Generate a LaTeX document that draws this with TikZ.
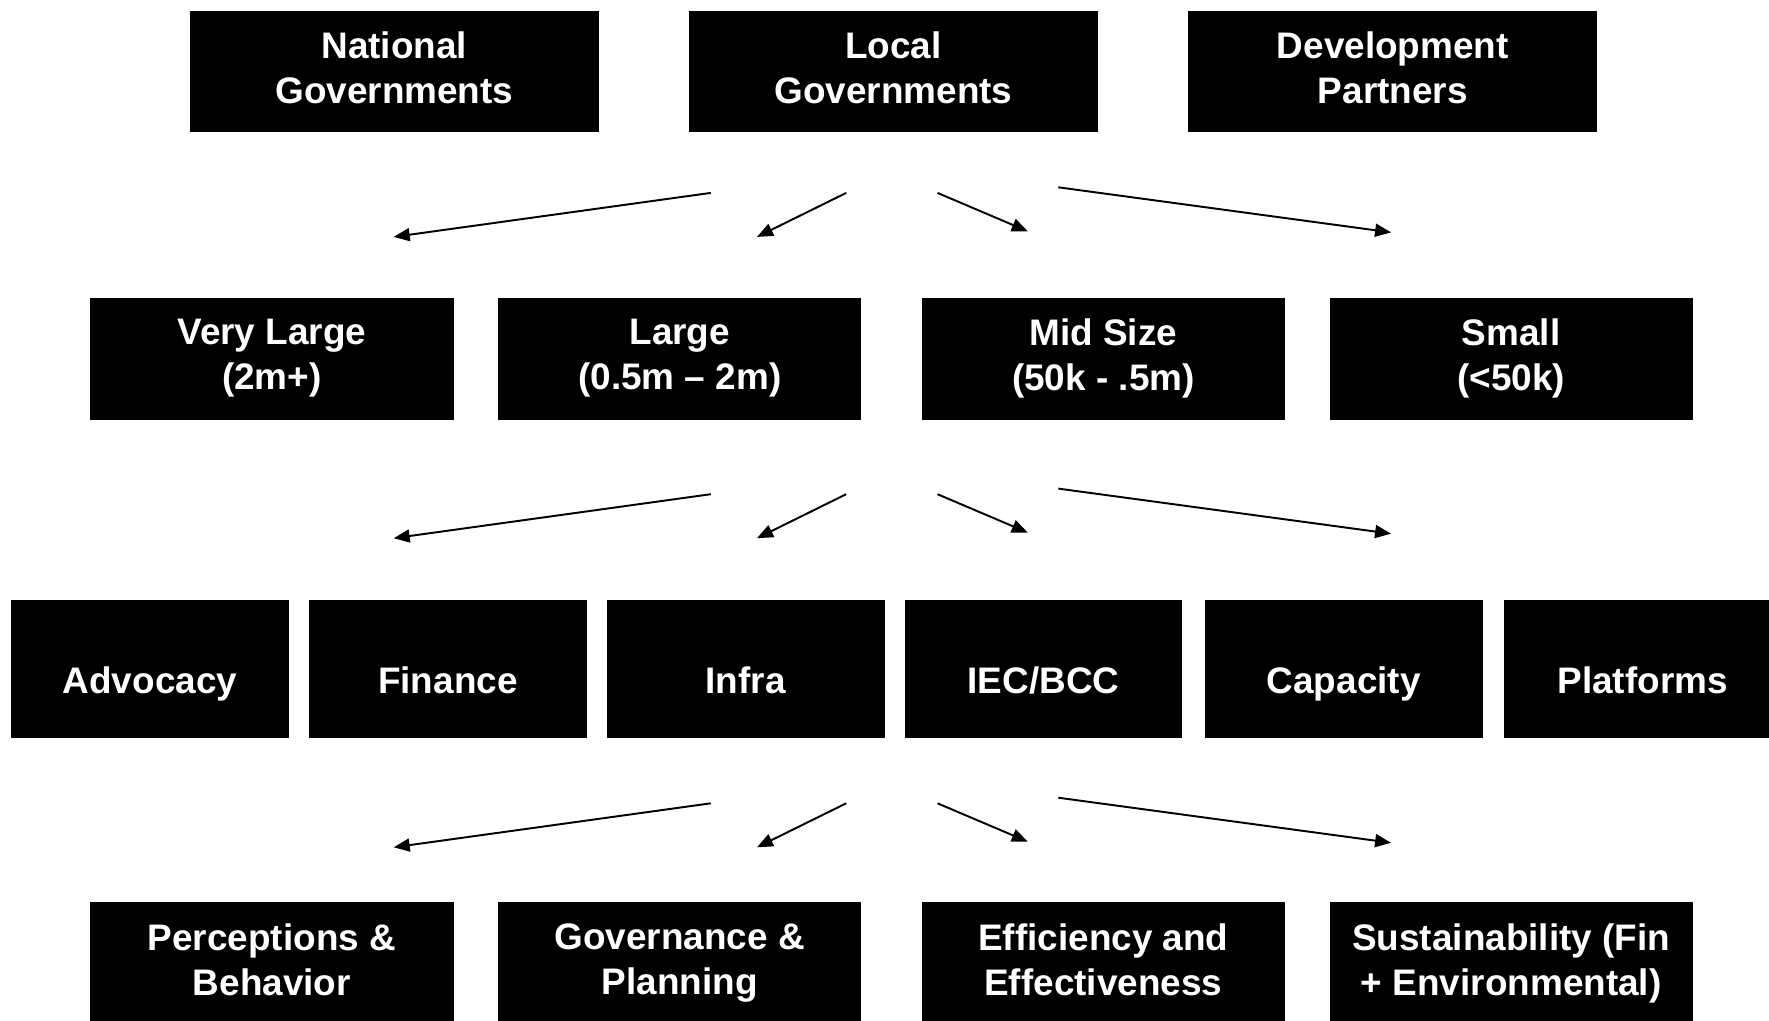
\documentclass[tikz,border=0pt]{standalone}
\usepackage{fontspec}
\setmainfont{Liberation Sans}
\usetikzlibrary{arrows.meta}
\tikzset{
  box/.style={fill=black,text=white,align=center,inner sep=0pt,
    font=\bfseries\fontsize{10.5}{12.8}\selectfont},
  twoline/.style={box,execute at begin node=\strut,text depth=2.3pt},
  wide/.style={twoline,minimum width=4.09cm,minimum height=1.21cm},
  mid/.style={twoline,minimum width=3.63cm,minimum height=1.22cm},
  tile/.style={box,minimum width=2.775cm,minimum height=1.376cm,
    text height=14pt,text depth=0.2pt},
  arr/.style={line width=0.55pt,-{Triangle[length=0.16cm,width=0.13cm]}}
}
\begin{document}
\begin{tikzpicture}[x=0.01cm,y=-0.01cm]
            \useasboundingbox (0,0) rectangle (1769,1021);
            % actors
            \node[wide] (natgov) at (394.3,71.7) {National\\Governments};
            \node[wide] (locgov) at (893.5,71.7) {Local\\Governments};
            \node[wide] (devpart) at (1392.8,71.7) {Development\\Partners};
            % city sizes
            \node[mid] (vlarge) at (271.9,358.8) {Very Large\\(2m+)};
            \node[mid] (large) at (679.8,358.8) {Large\\(0.5m – 2m)};
            \node[mid] (midsize) at (1103.4,358.8) {Mid Size\\(50k - .5m)};
            \node[mid] (small) at (1511.2,358.8) {Small\\(<50k)};
            % levers
            \node[tile] (advocacy) at (150,669) {Advocacy};
            \node[tile] (finance) at (447.9,669) {Finance};
            \node[tile] (infra) at (745.7,669) {Infra};
            \node[tile] (iecbcc) at (1043.6,669) {IEC/BCC};
            \node[tile] (capacity) at (1343.7,669) {Capacity};
            \node[tile] (platforms) at (1642.6,669) {Platforms};
            % outcomes
            \node[mid] (percep) at (271.9,963.5) {Perceptions \&\\Behavior};
            \node[mid] (govplan) at (679.8,963.5) {Governance \&\\Planning};
            \node[mid] (effic) at (1103.4,963.5) {Efficiency and\\Effectiveness};
            \node[mid] (sustain) at (1511.2,963.5) {Sustainability (Fin\\+ Environmental)};
            % fans of arrows between the rows
            \foreach \r/\dy in {1/0,2/301.3,3/610.4}{
              \coordinate (f\r s1) at (710.8,192.9+\dy);
              \coordinate (f\r e1) at (393.7,236.9+\dy);
              \coordinate (f\r s2) at (846.2,192.9+\dy);
              \coordinate (f\r e2) at (757,236.9+\dy);
              \coordinate (f\r s3) at (937.5,192.9+\dy);
              \coordinate (f\r e3) at (1027.8,231.3+\dy);
              \coordinate (f\r s4) at (1058.3,187.3+\dy);
              \coordinate (f\r e4) at (1391.1,232.4+\dy);
              \foreach \k in {1,...,4}
                \draw[arr] (f\r s\k) -- (f\r e\k);
            }
\end{tikzpicture}
\end{document}
